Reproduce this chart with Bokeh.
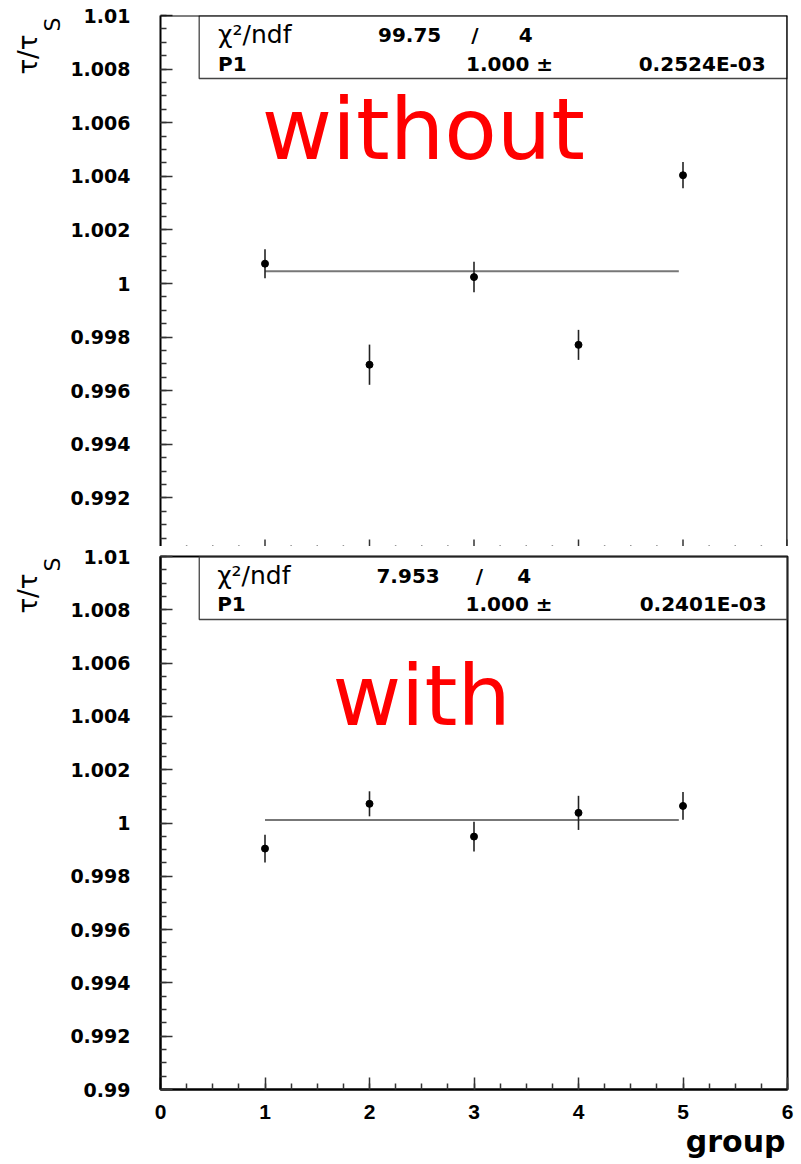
import numpy as np
from bokeh.plotting import figure
from bokeh.models import Label, Span, FixedTicker, CustomJSTickFormatter, Title
from bokeh.layouts import column
from bokeh.embed import file_html
from bokeh.resources import INLINE

# ---- data ----
groups = [1, 2, 3, 4, 5]
tau_without = [1.00074, 0.99697, 1.00024, 0.99771, 1.00404]
err_without = [0.00054, 0.00075, 0.00057, 0.00056, 0.00049]
tau_with = [0.99904, 1.00072, 0.99949, 1.00038, 1.00064]
err_with = [0.00052, 0.00047, 0.00056, 0.00064, 0.00052]
fit_x = [1.0, 4.96]
fit_without = 1.00046
fit_with = 1.00011
stats_without = ["99.75", "4", "1.000 \u00b1", "0.2524E-03"]
stats_with = ["7.953", "4", "1.000 \u00b1", "0.2401E-03"]
x_ticks = [0, 1, 2, 3, 4, 5, 6]
y_ticks = [0.99, 0.992, 0.994, 0.996, 0.998, 1.0, 1.002, 1.004, 1.006, 1.008, 1.01]

BOLD = "DejaVu Sans"
fmt = CustomJSTickFormatter(code="return String(Number(tick.toFixed(3)));")
y_minor = [round(v, 4) for v in np.arange(0.99, 1.01001, 0.0005)]
x_minor = [round(v, 3) for v in np.arange(0, 6.001, 0.25)]


def style_left(ax):
    ax.ticker = FixedTicker(ticks=y_ticks, minor_ticks=y_minor)
    ax.formatter = fmt
    ax.axis_line_width = 2
    ax.axis_line_color = "black"
    ax.major_tick_in = 12
    ax.major_tick_out = 0
    ax.minor_tick_in = 6
    ax.minor_tick_out = 0
    ax.major_tick_line_color = "#333333"
    ax.minor_tick_line_color = "#333333"
    ax.major_tick_line_width = 1.5
    ax.minor_tick_line_width = 1.5
    ax.major_label_standoff = 30
    ax.major_label_text_font = BOLD
    ax.major_label_text_font_style = "bold"
    ax.major_label_text_font_size = "19px"
    ax.major_label_text_color = "black"


def add_ytitle(p, s_off, t_off):
    p.add_layout(Title(text="S", align="right", offset=s_off, standoff=6,
                       text_font="DejaVu Sans", text_font_style="normal",
                       text_font_size="22px", text_color="black"), "left")
    p.add_layout(Title(text="\u03c4/\u03c4", align="right", offset=t_off, standoff=-16,
                       text_font="DejaVu Sans", text_font_style="normal",
                       text_font_size="26px", text_color="black"), "left")


def make_panel(p, tx, ty, tau, err, fit, stats, word, pos, box_px):
    left_px, bottom_px = box_px
    p.quad(left=[tx(left_px)], right=[6], bottom=[ty(bottom_px)], top=[1.01],
           fill_color=None, line_color="#444444", line_width=1.3)
    p.line(fit_x, [fit, fit], line_color="#777777", line_width=2)
    lo = [v - e for v, e in zip(tau, err)]
    hi = [v + e for v, e in zip(tau, err)]
    p.segment(x0=groups, y0=lo, x1=groups, y1=hi, line_color="#222222", line_width=1.6)
    p.scatter(groups, tau, size=7, color="black")

    (l1y, l2y, chi_x, num_r, slash_c, four_c, val_l, err_r) = pos["stats"]

    def lab(text, x, y, align, size, style="bold", font=BOLD):
        p.add_layout(Label(x=tx(x), y=ty(y), text=text, text_align=align,
                           text_baseline="middle", text_font=font,
                           text_font_style=style, text_font_size=size,
                           text_color="black"))
    lab("\u03c7\u00b2/ndf", chi_x, l1y, "left", "25px", "normal")
    lab(stats[0], num_r, l1y, "right", "20px")
    lab("/", slash_c, l1y, "center", "20px")
    lab(stats[1], four_c, l1y, "center", "20px")
    lab("P1", chi_x, l2y, "left", "20px")
    lab(stats[2], val_l, l2y, "left", "20px")
    lab(stats[3], err_r, l2y, "right", "20px")

    wx, wy, wsize = pos["word"]
    p.add_layout(Label(x=tx(wx), y=ty(wy), text=word, text_align="left",
                       text_baseline="alphabetic", text_font="DejaVu Sans",
                       text_font_size=wsize, text_color="#ff0000"))


# ---------------- top panel ----------------
T_L, T_R, T_T = 160, 792, 15
T_PPU = 26800.0
T_BOT = 546
tx1 = lambda px: (px - T_L) / ((T_R - T_L) / 6.0)
ty1 = lambda py: 1.01 - (py - T_T) / T_PPU

p1 = figure(width=801, height=T_BOT, x_range=(0, 6), y_range=(ty1(T_BOT), 1.01),
            x_axis_location=None, min_border_left=T_L, min_border_right=801 - T_R,
            min_border_top=T_T, min_border_bottom=0,
            output_backend="svg", toolbar_location=None)
p1.outline_line_color = None
p1.grid.visible = False
style_left(p1.yaxis[0])
add_ytitle(p1, 2, 19)
p1.add_layout(Span(location=1.01, dimension="width", line_color="black", line_width=2))
p1.add_layout(Span(location=6, dimension="height", line_color="black", line_width=2.5))
maj_len = 12 / T_PPU
min_len = 6 / T_PPU
p1.segment(x0=x_ticks, y0=[0.99] * len(x_ticks), x1=x_ticks,
           y1=[0.99 + maj_len] * len(x_ticks), line_color="#333333", line_width=1.5)
xm = [v for v in x_minor if v not in x_ticks]
p1.segment(x0=xm, y0=[0.99] * len(xm), x1=xm, y1=[0.99 + min_len] * len(xm),
           line_color="#333333", line_width=1.5)

make_panel(p1, tx1, ty1, tau_without, err_without, fit_without, stats_without, "without",
           {"stats": (34, 63, 218, 443, 477, 528, 468, 770), "word": (262, 128, "86px")},
           (199, 78))

# ---------------- bottom panel ----------------
B_L, B_R, B_T, B_B = 156, 787, 556, 1089
B_PPU = (B_B - B_T) / 0.02
OFF = T_BOT
tx2 = lambda px: (px - B_L) / ((B_R - B_L) / 6.0)
ty2 = lambda py: 1.01 - (py - B_T) / B_PPU

p2 = figure(width=801, height=1164 - OFF, x_range=(0, 6), y_range=(0.99, 1.01),
            min_border_left=B_L, min_border_right=801 - B_R,
            min_border_top=B_T - OFF, min_border_bottom=1164 - B_B,
            output_backend="svg", toolbar_location=None)
p2.outline_line_color = "black"
p2.outline_line_width = 2
p2.grid.visible = False
style_left(p2.yaxis[0])
xa = p2.xaxis[0]
xa.ticker = FixedTicker(ticks=x_ticks, minor_ticks=x_minor)
xa.axis_line_width = 2
xa.axis_line_color = "black"
xa.major_tick_in = 12
xa.major_tick_out = 0
xa.minor_tick_in = 6
xa.minor_tick_out = 0
xa.major_tick_line_color = "#333333"
xa.minor_tick_line_color = "#333333"
xa.major_tick_line_width = 1.5
xa.minor_tick_line_width = 1.5
xa.major_label_standoff = 15
xa.major_label_text_font = "Liberation Sans"
xa.major_label_text_font_style = "bold"
xa.major_label_text_font_size = "21px"
xa.major_label_text_color = "black"
add_ytitle(p2, 1, 17)
p2.add_layout(Title(text="group", align="right", offset=2, standoff=0,
                    text_font="DejaVu Sans", text_font_style="bold",
                    text_font_size="30px", text_color="black"), "below")

make_panel(p2, tx2, ty2, tau_with, err_with, fit_with, stats_with, "with",
           {"stats": (575, 603, 213, 437, 477, 522, 463, 766), "word": (329, 695, "84px")},
           (195, 619))

layout = column(p1, p2, spacing=0)
open("out.html", "w").write(file_html(layout, INLINE))
